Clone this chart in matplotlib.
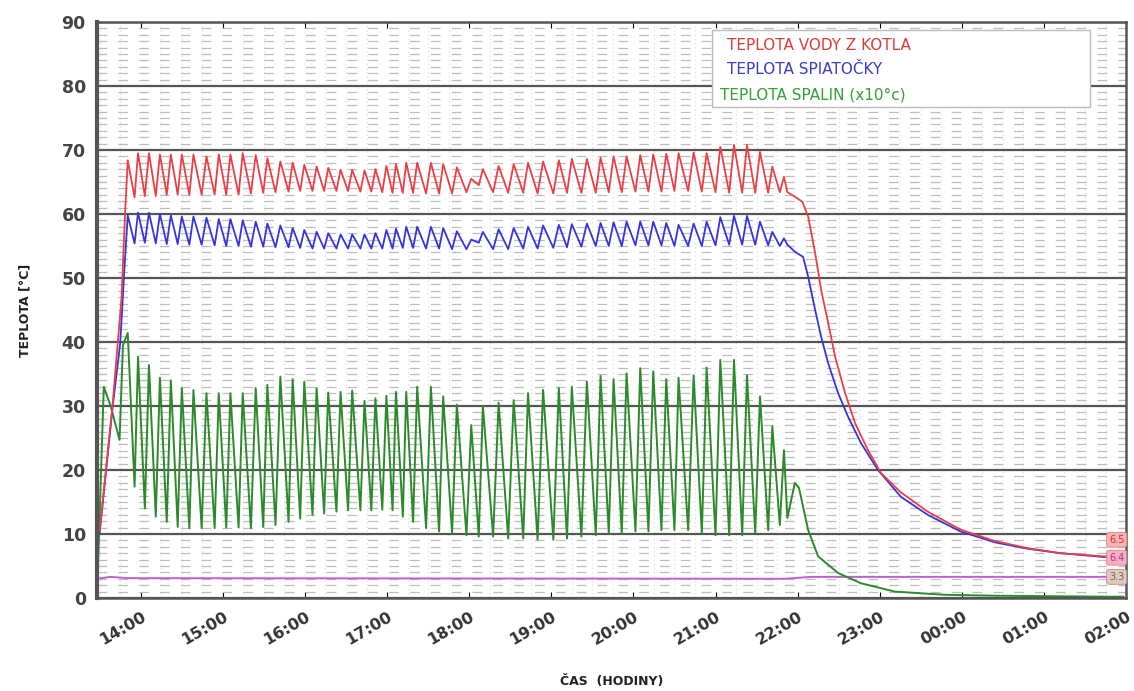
import matplotlib.pyplot as plt
from matplotlib.patches import Rectangle
from matplotlib.ticker import MultipleLocator
import numpy as np

plt.rcParams['lines.scale_dashes'] = False

# time in minutes from 14:00
tick_minutes = [0, 60, 120, 180, 240, 300, 360, 420, 480, 540, 600, 660, 720]
tick_labels = ['14:00', '15:00', '16:00', '17:00', '18:00', '19:00', '20:00',
               '21:00', '22:00', '23:00', '00:00', '01:00', '02:00']

# burner cycles (peak / trough times, minutes)
cycle_peak_t = [-9.5, -2, 6, 14, 22, 30, 38.5, 48, 57, 65.5, 74.5, 84, 92.5, 102, 111,
                119.5, 128.5, 137, 146, 154.5, 163.5, 171.5, 179.5, 186.5, 194, 202,
                212, 221, 231, 241.5, 250, 261.5, 272.5, 283, 294, 305.5, 315, 326,
                336, 345.5, 355, 365, 374.5, 384, 393, 404, 413.5, 423.5, 433.5, 443,
                452.5, 461.5, 470]
cycle_trough_t = [-4.5, 3, 11, 19, 27, 35.5, 44.5, 54, 62.5, 71.5, 80.5, 89.5, 98.5, 108,
                  116.5, 125.5, 134, 143, 151.5, 160.5, 168.5, 176.5, 184, 191.5, 199,
                  208.5, 218, 227.5, 238, 247, 257.5, 268.5, 279.5, 290, 301.5, 311.5,
                  322, 332.5, 342, 351.5, 361.5, 371, 380.5, 390, 400, 410, 420, 430,
                  439.5, 449, 458.5, 467, 472.5]

# water from boiler (red)
red_start_t = [-30, -20.5, -14, -11.5]
red_start_v = [10.5, 30.4, 47, 60]
red_peak = [68.4, 69.5, 69.5, 69.3, 69.3, 69.3, 69.3, 69.0, 69.3, 69.3, 69.5, 69.2, 68.7,
            68.2, 68.0, 67.7, 67.4, 67.2, 66.9, 66.9, 66.8, 67.0, 67.5, 67.8, 68.0, 68.0,
            68.0, 67.8, 67.3, 65.5, 67.0, 67.5, 67.8, 68.0, 68.2, 68.4, 68.6, 68.6, 68.8,
            69.0, 69.0, 69.2, 69.3, 69.4, 69.5, 69.6, 69.5, 70.5, 70.8, 70.8, 69.7, 67.4,
            65.8]
red_trough = [62.6, 62.8, 62.8, 63.0, 63.0, 63.0, 63.0, 63.0, 63.0, 63.0, 63.2, 63.3, 63.4,
              63.5, 63.6, 63.6, 63.6, 63.6, 63.6, 63.5, 63.5, 63.4, 63.3, 63.3, 63.3, 63.2,
              63.2, 63.2, 63.4, 64.5, 63.4, 63.3, 63.3, 63.2, 63.2, 63.3, 63.3, 63.3, 63.4,
              63.4, 63.5, 63.5, 63.5, 63.6, 63.6, 63.5, 63.4, 63.3, 63.3, 63.3, 63.3, 63.4,
              63.4]
red_tail_t = [478, 483.5, 487.7, 492.8, 497.2, 502.3, 507.4, 514.7, 522, 531.4, 541, 555.5,
              575, 599, 624, 648, 672, 704, 718]
red_tail_v = [62.7, 61.9, 59.6, 53.9, 48.1, 43.0, 37.7, 32.0, 27.3, 23.1, 19.5, 16.5, 13.5,
              10.7, 8.9, 7.8, 7.0, 6.5, 6.4]

# return water (blue)
blue_start_t = [-30, -20.5, -15, -12]
blue_start_v = [10.2, 29.9, 39.8, 51.2]
blue_peak = [59.8, 60.2, 60.2, 60.0, 59.8, 59.6, 59.6, 59.4, 59.2, 59.2, 59.0, 58.8, 58.5,
             58.2, 57.8, 57.5, 57.2, 57.0, 56.8, 56.8, 56.8, 57.0, 57.5, 57.7, 58.0, 58.0,
             58.0, 57.8, 57.3, 56.0, 57.2, 57.6, 57.8, 58.0, 58.2, 58.3, 58.4, 58.5, 58.6,
             58.7, 58.8, 58.8, 58.8, 58.6, 58.3, 58.5, 58.8, 59.5, 59.7, 59.7, 58.8, 57.2,
             56.2]
blue_trough = [55.4, 55.5, 55.4, 55.3, 55.3, 55.2, 55.2, 55.1, 55.0, 55.0, 54.9, 54.9, 54.8,
               54.8, 54.7, 54.6, 54.6, 54.6, 54.6, 54.6, 54.6, 54.6, 54.6, 54.7, 54.7, 54.6,
               54.6, 54.5, 54.5, 55.5, 54.5, 54.5, 54.6, 54.6, 54.7, 54.8, 54.9, 55.0, 55.0,
               55.0, 55.1, 55.1, 55.1, 55.0, 55.0, 55.0, 55.1, 55.2, 55.2, 55.2, 55.1, 55.0,
               55.2]
blue_tail_t = [478, 484, 487.7, 492.8, 497.2, 502.3, 509.6, 516.9, 526.3, 538.7, 555.5, 575,
               599, 624, 648, 672, 704, 718]
blue_tail_v = [54.1, 53.3, 50.2, 45.0, 40.8, 36.7, 32.0, 28.3, 24.2, 20.0, 15.8, 13.0, 10.4,
               8.7, 7.7, 7.0, 6.4, 6.3]

# flue gas (green, x10 °C)
green_start_t = [-32, -27, -22, -15.5, -13]
green_start_v = [0, 33, 30, 24.7, 39.5]
green_peak = [41.4, 37.7, 36.4, 34.4, 34.0, 32.8, 32.5, 32.0, 32.0, 32.0, 32.0, 32.8, 33.3,
              34.6, 34.2, 33.8, 32.8, 32.1, 32.2, 32.4, 30.8, 31.2, 31.6, 32.2, 32.2, 33.0,
              33.0, 31.5, 30.2, 27.0, 30.0, 30.5, 30.9, 32.0, 32.5, 32.8, 33.0, 33.8, 34.7,
              34.2, 35.1, 35.9, 35.4, 34.2, 34.4, 34.8, 36.0, 37.2, 37.2, 34.8, 31.5, 26.8,
              23.1]
green_trough = [17.4, 14.0, 12.7, 11.9, 11.1, 10.9, 10.9, 10.9, 11.0, 11.0, 10.9, 11.1, 11.4,
                11.9, 12.4, 13.0, 13.2, 13.5, 13.7, 13.7, 13.7, 13.8, 13.7, 12.7, 11.9, 10.9,
                10.4, 10.1, 9.8, 9.6, 9.6, 9.3, 9.3, 9.1, 9.1, 9.3, 9.6, 9.8, 10.1, 10.1,
                10.4, 10.4, 10.6, 10.6, 10.6, 10.1, 9.8, 9.8, 9.8, 10.1, 10.6, 11.4, 12.5]
green_tail_t = [478, 481, 487.7, 495, 509.6, 526.3, 551, 587.6, 626, 708.6, 718]
green_tail_v = [18.0, 17.2, 10.6, 6.5, 3.9, 2.3, 1.0, 0.5, 0.35, 0.2, 0.2]

# fourth channel (purple)
purple_t = [-32, -22, -10, 470, 490, 718]
purple_v = [3.0, 3.3, 3.1, 3.0, 3.3, 3.3]

tag_labels = ['6.5', '6.4', '3.3']


def series(start_t, start_v, peaks, troughs, tail_t, tail_v):
    t = np.empty(2 * len(cycle_peak_t))
    v = np.empty(2 * len(cycle_peak_t))
    t[0::2], t[1::2] = cycle_peak_t, cycle_trough_t
    v[0::2], v[1::2] = peaks, troughs
    return (np.concatenate([start_t, t, tail_t]),
            np.concatenate([start_v, v, tail_v]))


fig = plt.figure(figsize=(11.34, 6.91), dpi=100)
ax = fig.add_axes([0.0855, 0.1346, 0.9075, 0.8336])

ax.set_xlim(-32, 718)
ax.set_ylim(0, 90)

# grid
ax.yaxis.set_major_locator(MultipleLocator(10))
ax.yaxis.set_minor_locator(MultipleLocator(1))
ax.xaxis.set_minor_locator(MultipleLocator(15))
ax.grid(which='major', axis='y', color='#555555', linewidth=1.6)
ax.grid(which='minor', axis='y', color='#bdbdbd', linewidth=0.9, linestyle=(0, (7, 8)))
ax.grid(which='minor', axis='x', color='#e0e0e0', linewidth=0.8, linestyle=(0, (1, 2)))
ax.set_axisbelow(True)

gt, gv = series(green_start_t, green_start_v, green_peak, green_trough, green_tail_t, green_tail_v)
bt, bv = series(blue_start_t, blue_start_v, blue_peak, blue_trough, blue_tail_t, blue_tail_v)
rt, rv = series(red_start_t, red_start_v, red_peak, red_trough, red_tail_t, red_tail_v)

ax.plot(purple_t, purple_v, color='#c060d0', linewidth=1.4)
ax.plot(gt, gv, color='#2c8a2c', linewidth=1.4)
ax.plot(bt, bv, color='#3535e0', linewidth=1.3)
ax.plot(rt, rv, color='#ec3f45', linewidth=1.3)

ax.set_xticks(tick_minutes)
ax.set_xticklabels(tick_labels, rotation=30, ha='right', rotation_mode='anchor')
ax.tick_params(axis='x', which='major', direction='in', length=4, top=True,
               labelsize=11.5, labelcolor='#333333', pad=8)
ax.tick_params(axis='x', which='minor', length=0)
ax.tick_params(axis='y', which='both', length=0, labelsize=12.5, labelcolor='#444444', pad=8)
for lab in ax.get_xticklabels() + ax.get_yticklabels():
    lab.set_fontweight('bold')

for s in ax.spines.values():
    s.set_color('#555555')
    s.set_linewidth(1.8)
ax.spines['left'].set_linewidth(3)

ax.set_ylabel('TEPLOTA [°C]', fontsize=9, fontweight='bold', color='#222222', labelpad=22)
ax.set_xlabel('ČAS  (HODINY)', fontsize=9, fontweight='bold', color='#222222', labelpad=20)

# legend box
ax.add_patch(Rectangle((0.598, 0.852), 0.367, 0.134, transform=ax.transAxes,
                       facecolor='white', edgecolor='#bbbbbb', linewidth=1, zorder=5))
ax.text(0.612, 0.960, 'TEPLOTA VODY Z KOTLA', transform=ax.transAxes, color='#e03a3a',
        fontsize=11, va='center', zorder=6)
ax.text(0.612, 0.917, 'TEPLOTA SPIATOČKY', transform=ax.transAxes, color='#3a3ad0',
        fontsize=11, va='center', zorder=6)
ax.text(0.605, 0.873, 'TEPLOTA SPALIN (x10°c)', transform=ax.transAxes, color='#35a035',
        fontsize=11, va='center', zorder=6)

# value tags at right edge
tag_y = [9.1, 6.3, 3.3]
tag_fc = ['#f6b4b4', '#f3b0c6', '#d9cbbd']
tag_tc = ['#d03030', '#c03080', '#806050']
for y, lab, fc, tc in zip(tag_y, tag_labels, tag_fc, tag_tc):
    ax.text(0.9835, y, lab, transform=ax.get_yaxis_transform(), fontsize=7, color=tc,
            va='center', ha='left', clip_on=False, zorder=7,
            bbox=dict(boxstyle='round,pad=0.25', facecolor=fc, edgecolor='#e08080', linewidth=0.6))

fig.savefig('out.png', dpi=100)
